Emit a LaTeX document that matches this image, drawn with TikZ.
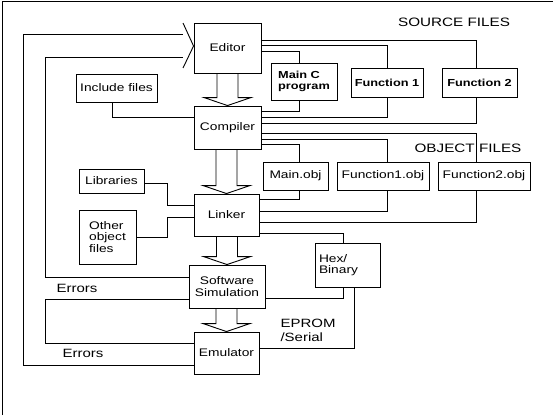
\documentclass[tikz,border=0pt]{standalone}
\usepackage{fontspec}
\setmainfont[FakeStretch=1.25]{Liberation Sans}
\usetikzlibrary{positioning}

\begin{document}
\begin{tikzpicture}[x=1pt,y=-1pt,
        wire/.style={line width=0.9pt},
        block/.style={draw, line width=0.9pt, inner sep=1pt, align=center, font=\fontsize{11}{11.5}\selectfont},
        bblock/.style={block, font=\fontsize{10.2}{11}\selectfont\bfseries},
        heading/.style={font=\fontsize{12.2}{14}\selectfont},
        note/.style={font=\fontsize{12}{14}\selectfont}]
        \useasboundingbox (0,0) rectangle (553,415);
        \draw[wire] (2,415) -- (2,1) -- (553,1);

        % main chain
        \node[block, minimum width=67pt, minimum height=50pt] (editor) at (227.5,48) {Editor};
        \node[block, minimum width=67pt, minimum height=43pt] (compiler) at (227.5,127.5) {Compiler};
        \node[block, minimum width=65pt, minimum height=42pt] (linker) at (226.5,215) {Linker};
        \node[block, minimum width=76pt, minimum height=43pt] (sim) at (227,286.5) {Software\\Simulation};
        \node[block, minimum width=65pt, minimum height=42pt] (emulator) at (226.5,353) {Emulator};

        % inputs on the left
        \node[block, minimum width=81pt, minimum height=28pt] (include) at (116.5,88) {Include files};
        \node[block, minimum width=65pt, minimum height=24pt] (libraries) at (111.5,181) {Libraries};
        \node[block, align=left, minimum width=57pt, minimum height=54pt] (other) at (107.5,237) {Other\\object\\files};

        % source and object files
        \node[bblock, align=left, minimum width=66pt, minimum height=37pt] (mainc) at (304,81.5) {Main C\\program};
        \node[bblock, minimum width=72pt, minimum height=29pt] (func1) at (387,82.5) {Function 1};
        \node[bblock, minimum width=75pt, minimum height=29pt] (func2) at (479.5,82.5) {Function 2};
        \node[block, minimum width=65pt, minimum height=28pt] (mainobj) at (295.5,176) {Main.obj};
        \node[block, minimum width=92pt, minimum height=28pt] (f1obj) at (383,176) {Function1.obj};
        \node[block, minimum width=92pt, minimum height=28pt] (f2obj) at (484,176) {Function2.obj};
        \node[block, align=left, inner sep=4pt, text width=57pt, minimum height=44pt] (hex) at (347.5,265) {Hex/\\Binary};

        \node[heading] (srcfiles) at (454,22) {SOURCE FILES};
        \node[heading] (objfiles) at (468,148) {OBJECT FILES};
        \node[note] (err1) at (77,288) {Errors};
        \node[note] (err2) at (83,353) {Errors};
        \node[note, align=left, anchor=west] (eprom) at (277,330) {EPROM\\/Serial};

        \coordinate (fbout) at (183,34);
        \coordinate (fbin) at (183,57);

        % editor to sources, sources to compiler
        \draw[wire] ([yshift=8pt]editor.east) -| ([xshift=-3.5pt]func2.north);
        \draw[wire] ([yshift=3pt]editor.east) -| (func1.north);
        \draw[wire] ([yshift=-3pt]editor.east) -| ([xshift=-5pt]mainc.north);
        \draw[wire] ([xshift=-5pt]mainc.south) |- ([yshift=16.5pt]compiler.east);
        \draw[wire] (func1.south) |- ([yshift=10.5pt]compiler.east);
        \draw[wire] ([xshift=-3.5pt]func2.south) |- ([yshift=4.5pt]compiler.east);

        % compiler to objects, objects to linker
        \draw[wire] ([yshift=-5.5pt]compiler.east) -| ([xshift=-8pt]f2obj.north);
        \draw[wire] ([yshift=-11.5pt]compiler.east) -| ([xshift=4pt]f1obj.north);
        \draw[wire] ([yshift=-16.5pt]compiler.east) -| ([xshift=3.5pt]mainobj.north);
        \draw[wire] ([xshift=3.5pt]mainobj.south) |- ([yshift=16pt]linker.east);
        \draw[wire] ([xshift=4pt]f1obj.south) |- ([yshift=4pt]linker.east);
        \draw[wire] ([xshift=-8pt]f2obj.south) |- ([yshift=-7pt]linker.east);

        \draw[wire] ([yshift=-18pt]linker.east) -| ([xshift=-4.5pt]hex.north);
        \draw[wire] ([xshift=-4.5pt]hex.south) |- ([yshift=-11.5pt]sim.east);
        \draw[wire] ([xshift=6.5pt]hex.south) |- ([yshift=5pt]emulator.east);

        \draw[wire] ([xshift=-4.5pt]include.south) |- ([yshift=10.5pt]compiler.west);
        \draw[wire] ([yshift=-2pt]libraries.east) -- ++(23pt,0) |- ([yshift=10pt]linker.west);
        \draw[wire] (other.east) -- ++(31pt,0) |- ([yshift=-2pt]linker.west);

        % error loops back to the editor
        \draw[wire] ([yshift=-12pt]emulator.west) -| (23,34) -- (fbout);
        \draw[wire] ([yshift=9.5pt]sim.west) -| (45,57) -- (fbin);
        \draw[wire] ([yshift=-12.5pt]sim.west) -| (45,343) -- ([yshift=10pt]emulator.west);
        \draw[wire] ([yshift=11pt]fbout) -- ([yshift=2pt]editor.west) -- ([yshift=-11pt]fbin);

        % hollow arrows down the chain
        \foreach \a/\b in {editor/compiler, compiler/linker, linker/sim, sim/emulator}
            \draw[wire] ([xshift=-10.5pt]\b.north |- \a.south) -- ([xshift=-10.5pt,yshift=8pt]\b.north)
                -- ([xshift=-23.5pt,yshift=8pt]\b.north) -- (\b.north)
                -- ([xshift=23.5pt,yshift=8pt]\b.north) -- ([xshift=10.5pt,yshift=8pt]\b.north)
                -- ([xshift=10.5pt]\b.north |- \a.south);

    \end{tikzpicture}
\end{document}
